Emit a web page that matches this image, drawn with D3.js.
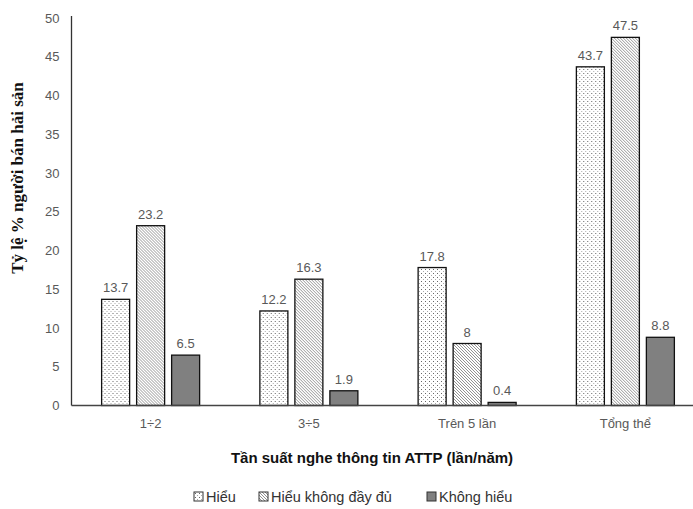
<!DOCTYPE html>
<html>
<head>
<meta charset="utf-8">
<script src="https://cdn.jsdelivr.net/npm/d3@7"></script>
<style>
  html, body { margin: 0; padding: 0; background: #fff; }
  svg { display: block; font-family: "Liberation Sans", Arial, sans-serif; }
</style>
</head>
<body>
<div id="chart"></div>
<script>
// Tỷ lệ % người bán hải sản theo tần suất nghe thông tin ATTP
const categories = ["1÷2", "3÷5", "Trên 5 lần", "Tổng thể"];
const seriesNames = ["Hiểu", "Hiểu không đầy đủ", "Không hiểu"];
const hieu = [13.7, 12.2, 17.8, 43.7];
const hieuKhongDayDu = [23.2, 16.3, 8, 47.5];
const khongHieu = [6.5, 1.9, 0.4, 8.8];
const yTicks = [0, 5, 10, 15, 20, 25, 30, 35, 40, 45, 50];

const W = 693, H = 509;
const plot = { left: 71.5, right: 704.5, top: 18, bottom: 405.5 };

const svg = d3.select("#chart").append("svg")
  .attr("width", W).attr("height", H);

// patterns
const defs = svg.append("defs");
const dots = defs.append("pattern").attr("id", "dots")
  .attr("patternUnits", "userSpaceOnUse").attr("width", 4).attr("height", 4);
dots.append("rect").attr("width", 4).attr("height", 4).attr("fill", "#fff");
dots.append("rect").attr("x", 1).attr("y", 1).attr("width", 1).attr("height", 1).attr("fill", "#666");
dots.append("rect").attr("x", 3).attr("y", 3).attr("width", 1).attr("height", 1).attr("fill", "#aaa");

const diag = defs.append("pattern").attr("id", "diag")
  .attr("patternUnits", "userSpaceOnUse").attr("width", 3).attr("height", 3);
diag.append("rect").attr("width", 3).attr("height", 3).attr("fill", "#fff");
diag.append("path").attr("d", "M0,0L3,3M-1,2L1,4M2,-1L4,1")
  .attr("stroke", "#888").attr("stroke-width", 0.9);

const fills = ["url(#dots)", "url(#diag)", "#808080"];

const data = categories.map((c, i) => ({
  cat: c,
  values: [hieu[i], hieuKhongDayDu[i], khongHieu[i]]
}));

// scales
const x0 = d3.scaleBand().domain(categories).range([plot.left, plot.right]).paddingInner(0);
const groupW = 98;
const x1 = d3.scaleBand().domain(d3.range(seriesNames.length))
  .range([(x0.bandwidth() - groupW) / 2, (x0.bandwidth() + groupW) / 2])
  .paddingInner(0.2);
const y = d3.scaleLinear().domain([0, 50]).range([plot.bottom, plot.top]);

// y tick labels
svg.append("g").selectAll("text")
  .data(yTicks).join("text")
  .attr("x", plot.left - 12)
  .attr("y", d => y(d) + 4.5)
  .attr("text-anchor", "end")
  .attr("font-size", 13)
  .attr("fill", "#595959")
  .text(d => d);

// bars
const groups = svg.append("g").selectAll("g")
  .data(data).join("g")
  .attr("transform", d => `translate(${x0(d.cat)},0)`);

groups.selectAll("rect")
  .data(d => d.values.map((v, j) => ({ v, j })))
  .join("rect")
  .attr("x", d => x1(d.j))
  .attr("width", x1.bandwidth())
  .attr("y", d => y(d.v))
  .attr("height", d => y(0) - y(d.v))
  .attr("fill", d => fills[d.j])
  .attr("stroke", "#111")
  .attr("stroke-width", 1.3);

groups.selectAll("text")
  .data(d => d.values.map((v, j) => ({ v, j })))
  .join("text")
  .attr("x", d => x1(d.j) + x1.bandwidth() / 2)
  .attr("y", d => y(d.v) - 7)
  .attr("text-anchor", "middle")
  .attr("font-size", 13)
  .attr("fill", "#595959")
  .text(d => d.v);

// axes lines
svg.append("line")
  .attr("x1", plot.left).attr("x2", plot.left)
  .attr("y1", y(50) - 2).attr("y2", y(0))
  .attr("stroke", "#333").attr("stroke-width", 1.3);
svg.append("line")
  .attr("x1", plot.left).attr("x2", plot.right)
  .attr("y1", y(0)).attr("y2", y(0))
  .attr("stroke", "#444").attr("stroke-width", 1.5);

// category labels
svg.append("g").selectAll("text")
  .data(categories).join("text")
  .attr("x", d => x0(d) + x0.bandwidth() / 2)
  .attr("y", y(0) + 22)
  .attr("text-anchor", "middle")
  .attr("font-size", 13)
  .attr("fill", "#595959")
  .text(d => d);

// axis titles
svg.append("text")
  .attr("x", 372).attr("y", 463)
  .attr("text-anchor", "middle")
  .attr("font-size", 15)
  .attr("font-weight", "bold")
  .attr("fill", "#111")
  .text("Tần suất nghe thông tin ATTP (lần/năm)");

svg.append("text")
  .attr("transform", "translate(23,178) rotate(-90)")
  .attr("text-anchor", "middle")
  .attr("font-family", "'Liberation Serif', 'Times New Roman', serif")
  .attr("font-size", 17)
  .attr("font-weight", "bold")
  .attr("fill", "#111")
  .text("Tỷ lệ % người bán hải sản");

// legend
const legendX = [194, 259, 427];
const legend = svg.append("g").selectAll("g")
  .data(seriesNames).join("g")
  .attr("transform", (d, i) => `translate(${legendX[i]},492)`);
legend.append("rect")
  .attr("width", 9).attr("height", 9)
  .attr("fill", (d, i) => fills[i])
  .attr("stroke", "#333").attr("stroke-width", 1);
legend.append("text")
  .attr("x", 12).attr("y", 10)
  .attr("font-size", 14.5)
  .attr("fill", "#333")
  .text(d => d);
</script>
</body>
</html>
